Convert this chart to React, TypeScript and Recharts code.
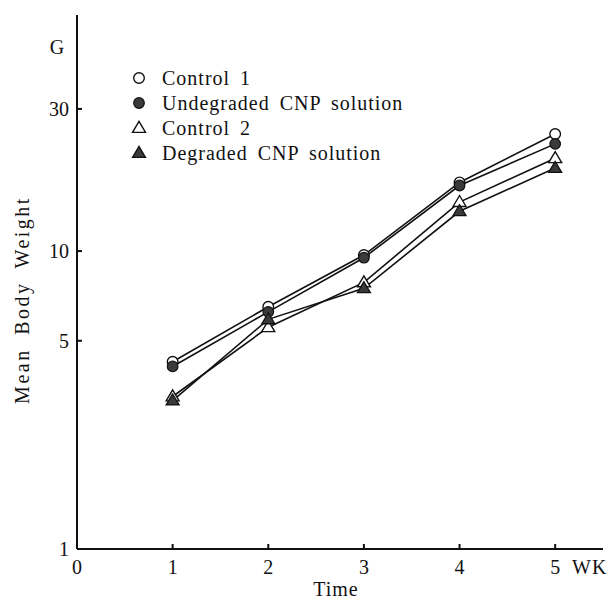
import React from 'react';
import { LineChart, Line, XAxis, YAxis, Customized } from 'recharts';

const weeks = [1, 2, 3, 4, 5];
const control1 = [4.25, 6.5, 9.7, 17.0, 24.7];
const undegraded = [4.1, 6.25, 9.5, 16.6, 22.9];
const control2 = [3.25, 5.55, 7.85, 14.6, 20.5];
const degraded = [3.15, 5.9, 7.5, 13.6, 19.0];

const seriesNames = ['Control 1', 'Undegraded CNP solution', 'Control 2', 'Degraded CNP solution'];
const seriesKeys = ['c1', 'ud', 'c2', 'dg'];
const markerTypes = ['openCircle', 'filledCircle', 'openTriangle', 'filledTriangle'];

const xTicks = [0, 1, 2, 3, 4, 5];
const yTicks = [1, 5, 10, 30];

const data = weeks.map((w, i) => ({
  week: w,
  c1: control1[i],
  ud: undegraded[i],
  c2: control2[i],
  dg: degraded[i],
}));

const FONT = '"Liberation Serif", "DejaVu Serif", serif';
const INK = '#111';

function Marker({ type, cx, cy }: { type: string; cx: number; cy: number }) {
  if (cx == null || cy == null) return null;
  if (type === 'openCircle') {
    return <circle cx={cx} cy={cy} r={5.3} fill="#fff" stroke={INK} strokeWidth={1.4} />;
  }
  if (type === 'filledCircle') {
    return <circle cx={cx} cy={cy} r={5.3} fill="#3a3a3a" stroke={INK} strokeWidth={1.2} />;
  }
  const h = 11;
  const w = 13;
  const pts = `${cx},${cy - h * 0.6} ${cx - w / 2},${cy + h * 0.4} ${cx + w / 2},${cy + h * 0.4}`;
  if (type === 'openTriangle') {
    return <polygon points={pts} fill="#fff" stroke={INK} strokeWidth={1.4} strokeLinejoin="miter" />;
  }
  return <polygon points={pts} fill="#3a3a3a" stroke={INK} strokeWidth={1.3} strokeLinejoin="miter" />;
}

const makeDot = (type: string) => (props: any) => (
  <Marker key={`${type}-${props.index}`} type={type} cx={props.cx} cy={props.cy} />
);

const YTick = (props: any) => {
  const { x, y, payload } = props;
  return (
    <g>
      <line x1={x} y1={y} x2={x + 5} y2={y} stroke={INK} strokeWidth={2} />
      <text x={x - 8} y={y + 7} textAnchor="end" fontSize={20} fontFamily={FONT} fill={INK}>
        {payload.value}
      </text>
    </g>
  );
};

const XTick = (props: any) => {
  const { x, y, payload } = props;
  return (
    <g>
      {payload.value !== 0 && <line x1={x} y1={y} x2={x} y2={y - 5} stroke={INK} strokeWidth={2} />}
      <text x={x} y={y + 25} textAnchor="middle" fontSize={20} fontFamily={FONT} fill={INK}>
        {payload.value}
      </text>
    </g>
  );
};

const Annotations = () => (
  <g fontFamily={FONT} fill={INK}>
    <text x={57} y={54} textAnchor="middle" fontSize={20}>G</text>
    <text x={572} y={574} textAnchor="start" fontSize={20} letterSpacing={1}>WK</text>
    <text x={336} y={596} textAnchor="middle" fontSize={20} letterSpacing={1}>Time</text>
    <text
      x={22}
      y={300}
      textAnchor="middle"
      fontSize={20}
      letterSpacing={2.5}
      wordSpacing={6}
      transform="rotate(-90 22 300)"
      dominantBaseline="central"
    >
      Mean Body Weight
    </text>
    {seriesNames.map((name, i) => {
      const cy = 78 + i * 25;
      return (
        <g key={name}>
          <Marker type={markerTypes[i]} cx={139} cy={cy} />
          <text x={162} y={cy + 7} fontSize={20} letterSpacing={1} wordSpacing={4}>
            {name}
          </text>
        </g>
      );
    })}
  </g>
);

export default function App() {
  return (
    <div style={{ position: 'absolute', left: 0, top: 0, background: '#fff' }}>
      <LineChart
        width={611}
        height={606}
        data={data}
        margin={{ top: 15, right: 8, bottom: 0, left: 17 }}
      >
        <XAxis
          dataKey="week"
          type="number"
          domain={[0, 5.5]}
          ticks={xTicks}
          allowDataOverflow
          height={57}
          tickSize={0}
          tickMargin={0}
          tickLine={false}
          axisLine={{ stroke: INK, strokeWidth: 2 }}
          tick={<XTick />}
        />
        <YAxis
          type="number"
          scale="log"
          domain={[1, 62]}
          ticks={yTicks}
          allowDataOverflow
          width={60}
          tickSize={0}
          tickMargin={0}
          tickLine={false}
          axisLine={{ stroke: INK, strokeWidth: 2 }}
          tick={<YTick />}
        />
        {seriesKeys.map((k, i) => (
          <Line
            key={k}
            dataKey={k}
            name={seriesNames[i]}
            stroke={INK}
            strokeWidth={1.6}
            isAnimationActive={false}
            dot={makeDot(markerTypes[i])}
            activeDot={false}
            type="linear"
          />
        ))}
        <Customized component={Annotations} />
      </LineChart>
    </div>
  );
}
